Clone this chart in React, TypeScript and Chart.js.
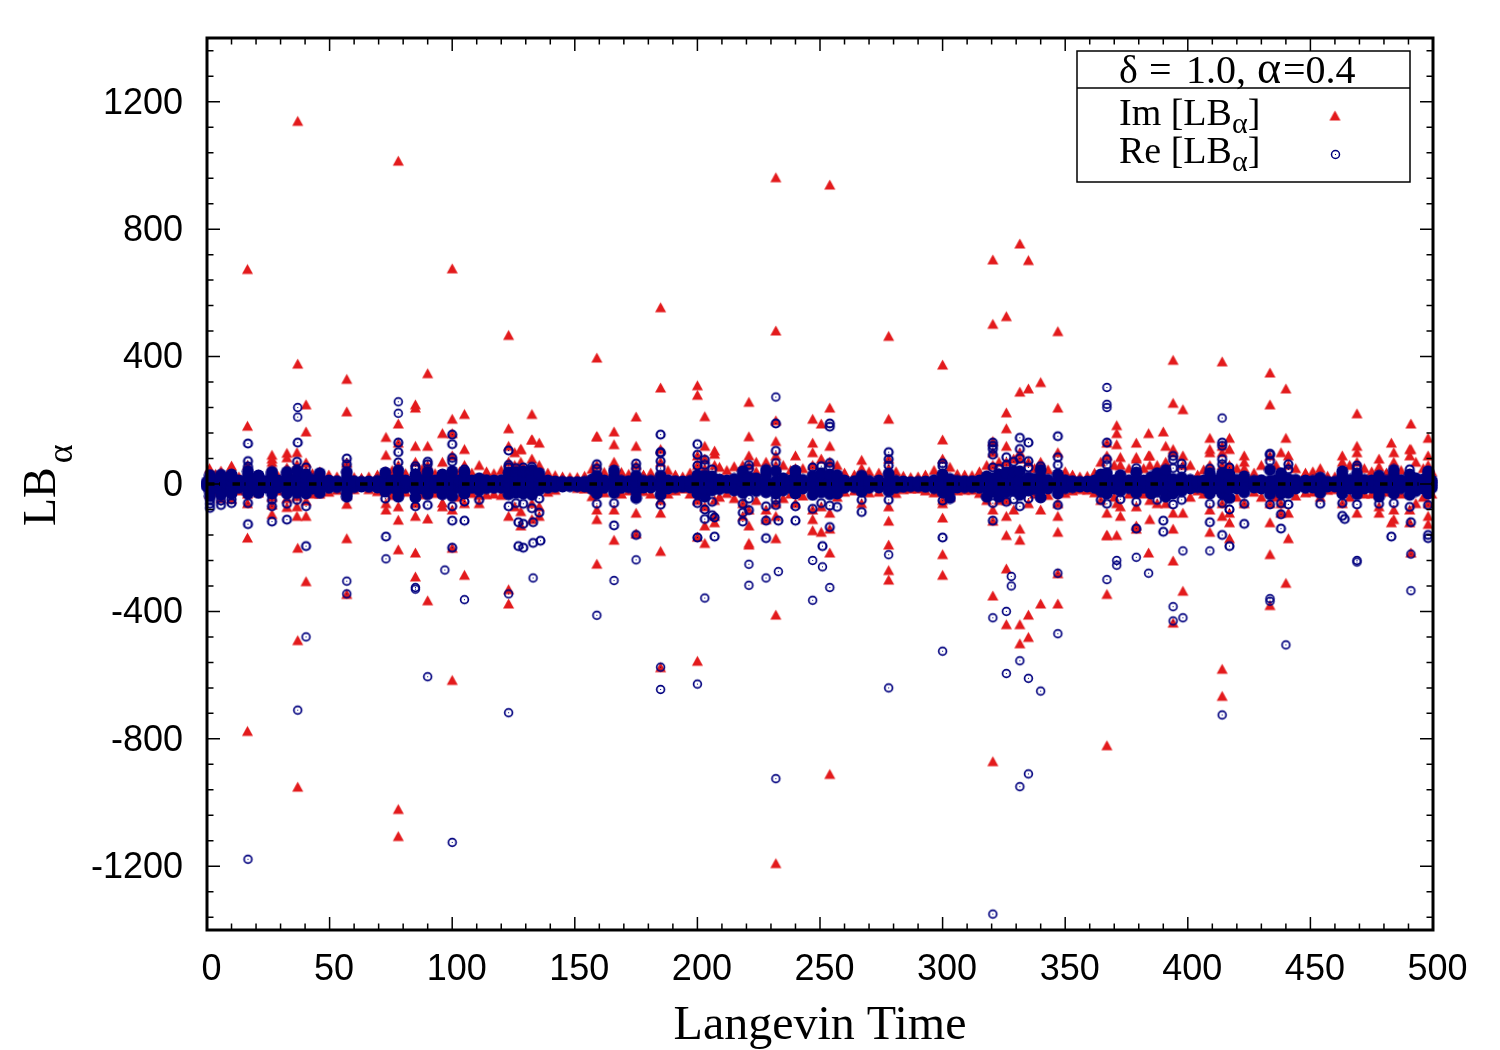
import React, { useEffect, useRef } from "react";
import { Chart, registerables } from "chart.js";

Chart.register(...registerables);

const xTicks = [0, 50, 100, 150, 200, 250, 300, 350, 400, 450, 500];
const yTicks = [-1200, -800, -400, 0, 400, 800, 1200];
const xLabel = "Langevin Time";
const legendIm = "Im [LB";
const legendRe = "Re [LB";
const zeroLine = [0, 500];

// each row: time, then the values seen in that column
const reSpread: number[][] = [
  [0, -8, -3, 2, 7], [1.2, -75, -62, -50, -38, -24, -10, 4, 16, 28], [3.5, -12, -5, 3, 10], [5.7, -66, -52, -34, -20, -6, 8, 20, 29], [8, -11, -4, 4, 12], [10, -60, -48, -30, -18, -4, 10, 24, 30],
  [13, -12, -4, 3, 11], [16.7, -60, -30, -16, -2, 12, 26, 40, 55], [19, -13, -5, 4, 12], [21, -28, -12, 2, 14, 27], [24, -11, -4, 4, 10], [26.5, -118, -70, -50, -30, -12, 4, 18, 32, 38], [29, -11, -4, 5, 11],
  [32.6, -112, -62, -30, -14, 2, 16, 30, 38], [35, -13, -5, 4, 12], [36.7, -50, -28, -12, 6, 20, 42, 70], [40.4, -70, -30, -14, 3, 18, 30, 52], [43, -14, -5, 4, 13], [46, -28, -10, 5, 18, 34], [49.7, -12, -5, 4, 11],
  [53, -10, -3, 3, 9], [57, -40, -28, -12, 4, 20, 38, 62, 80], [60, -10, -3, 4, 9], [63, -8, -3, 3, 7], [66, -9, -3, 3, 8], [69.5, -11, -4, 4, 10], [72.7, -46, -24, -10, 4, 18, 36], [75.5, -12, -4, 3, 11],
  [78, -40, -24, -8, 8, 22, 42, 68], [81, -12, -4, 4, 11], [85, -70, -42, -20, -4, 12, 30, 48, 56], [87.7, -14, -5, 4, 13], [90, -66, -32, -14, 4, 18, 38, 62], [93, -12, -4, 4, 11], [96, -32, -14, 2, 18, 30], [100, -70, -38, -18, 0, 18, 40, 70, 82],
  [103, -13, -5, 5, 12], [105, -55, -30, -12, 6, 22, 38, 46], [108, -12, -4, 4, 11], [111, -50, -20, -8, 8, 18], [114, -13, -4, 3, 12], [117, -12, -4, 4, 11], [120, -12, -4, 5, 12], [123, -70, -32, -14, 4, 20, 36, 52, 60],
  [126, -60, -28, -10, 8, 24, 38, 50], [129, -62, -30, -12, 6, 22, 40, 52], [132.5, -76, -34, -14, 4, 22, 44, 54], [135.5, -90, -46, -18, 2, 20, 34], [139, -12, -4, 4, 11], [142, -9, -3, 3, 8], [145, -8, -3, 3, 7], [148, -7, -2, 2, 6], [151, -7, -2, 3, 6],
  [154, -8, -3, 3, 7], [157, -16, -6, 3, 14], [159, -62, -30, -10, 8, 26, 48, 62], [162, -12, -4, 4, 11], [166, -60, -28, -10, 8, 24, 42], [169, -12, -4, 4, 10], [172, -10, -3, 4, 9], [175, -44, -22, -8, 8, 26, 50, 64], [178, -11, -4, 3, 10],
  [181, -11, -4, 5, 10], [185, -65, -34, -12, 6, 26, 50, 72, 98], [188, -14, -5, 4, 12], [191, -10, -3, 3, 9], [194, -9, -3, 3, 8], [197, -11, -4, 4, 10], [200, -60, -30, -12, 8, 28, 58, 92], [203, -80, -40, -16, 4, 26, 60, 76],
  [206, -98, -56, -20, 2, 24, 46], [209, -16, -6, 2, 14], [212, -12, -4, 5, 11], [215, -20, -8, 4, 16], [218.5, -118, -90, -62, -28, -10, 8, 26, 40], [221, -82, -46, -18, 2, 22, 48, 60], [224, -22, -6, 6, 18], [228, -115, -70, -26, -8, 10, 30, 44],
  [232, -66, -30, -10, 10, 40, 66, 104], [235, -20, -6, 6, 18], [238, -12, -4, 4, 11], [240, -70, -30, -10, 6, 26, 42], [243, -14, -5, 4, 13], [247, -78, -34, -12, 6, 26, 52], [250.5, -60, -26, -8, 10, 34, 56], [254, -68, -32, -12, 8, 30, 54, 66],
  [257, -72, -30, -8, 10, 28], [260, -12, -4, 4, 11], [264, -10, -3, 3, 9], [267, -88, -50, -24, -6, 12, 26], [270, -12, -4, 4, 10], [274, -11, -4, 4, 11], [278, -50, -22, -6, 10, 32, 58, 78], [281, -12, -4, 4, 10], [284, -9, -3, 3, 8], [287, -7, -2, 3, 6], [290, -7, -3, 2, 7],
  [293, -9, -3, 3, 8], [296.5, -13, -5, 3, 12], [300, -52, -26, -8, 10, 30, 56], [303, -44, -18, 2, 16], [306, -11, -4, 4, 10], [309, -10, -3, 4, 9], [312, -10, -4, 3, 9], [315, -12, -4, 5, 11], [318, -40, -14, 4, 24], [320.5, -60, -24, -6, 18, 52, 92, 120],
  [323, -40, -16, 4, 30, 48], [326, -56, -26, -8, 14, 36, 60, 84], [329, -48, -20, -2, 18, 40, 70], [331.5, -70, -34, -10, 12, 40, 80, 110], [335, -46, -20, -2, 20, 52, 72], [337.5, -16, -6, 5, 16], [340, -42, -18, 0, 22, 44, 56], [343, -14, -5, 4, 13], [347, -66, -30, -8, 10, 30, 60, 84],
  [350, -13, -5, 4, 12], [353, -10, -3, 3, 9], [356, -8, -3, 3, 7], [359, -8, -3, 4, 8], [362, -12, -4, 4, 11], [364.5, -50, -22, -6, 14, 30], [367, -62, -30, -10, 12, 34, 60, 78], [370, -14, -5, 4, 12], [372.5, -48, -22, -6, 12, 28], [376, -13, -5, 4, 12], [379, -56, -28, -8, 10, 36, 50],
  [382, -12, -4, 4, 11], [385, -30, -12, 4, 22], [387.5, -50, -22, -6, 10, 34], [391, -40, -16, 2, 26, 44], [394, -64, -30, -8, 16, 50, 76, 88], [397.5, -50, -22, -4, 20, 46, 64], [401, -14, -5, 4, 13], [404, -10, -4, 4, 9], [406.5, -12, -5, 4, 11], [409, -62, -30, -8, 14, 34, 48], [411.5, -14, -5, 5, 13],
  [414, -60, -30, -10, 12, 34, 62, 78], [417, -80, -44, -14, 8, 30, 52], [420, -14, -5, 4, 13], [423, -62, -26, -8, 10, 24], [427, -11, -4, 4, 10], [430, -14, -5, 4, 12], [433.5, -64, -32, -10, 10, 44, 72, 92], [436, -14, -5, 6, 13], [438, -60, -30, -10, 10, 34], [441, -64, -28, -6, 16, 46, 62],
  [444, -14, -5, 4, 13], [448, -12, -4, 4, 11], [451, -11, -4, 4, 10], [454, -62, -28, -10, 6, 20], [457, -8, -3, 3, 7], [460, -8, -2, 3, 7], [463, -100, -60, -30, -10, 8, 26, 40], [466, -14, -5, 4, 13], [469, -64, -32, -10, 10, 32, 50, 58], [472, -14, -5, 5, 13],
  [475, -12, -4, 4, 11], [478, -62, -40, -24, -8, 8, 26], [481, -11, -4, 3, 10], [484, -60, -30, -10, 8, 28, 44], [487, -13, -5, 4, 12], [490.5, -72, -34, -12, 8, 30, 46], [493, -22, -8, 2, 18], [496, -14, -5, 6, 14], [498, -66, -30, -8, 10, 30, 40], [499.5, -12, -4, 5, 11],
];

const imSpread: number[][] = [
  [1, 50, 38, 26, -30], [3.5, 32, 22, -24], [5.7, 42, 30, 20, -44], [8, 28, 18, -22], [10, 58, 46, 34, -46], [13, 24, -20], [16.5, 60, 40, -60, -30], [21, 30, 18, -26], [26.5, 92, 80, 70, 58, 38, -64, -94, -40], [29, 26, -20],
  [32.6, 98, 84, 52, 30, -44, -72], [36.7, 100, 62, -70, -38, -100], [40.4, 68, 44, -52, -100], [43, 34, 22, -30], [46, 40, 26, -30], [49.7, 30, 18, -24], [53, 24, -18], [57, 68, 50, -62, -34], [60, 22, -16], [63, 20, 14], [66, 24, -16], [69.5, 30, -22],
  [73, 148, 92, 40, -80, -60], [75.5, 44, 26, -34], [78, 190, 130, 60, -70, -112], [81, 34, 22, -24], [85, 120, 70, -60, -100], [87.7, 48, 30, -32], [90, 120, 60, -108], [93, 34, -28], [96, 160, 70, -70, -58], [100, 160, 90, -80],
  [103, 40, -40], [105, 110, 60, -60], [108, 36, -28], [111, 60, -60, -34], [114, 40, -32], [117, 34, -30], [120, 44, -34], [123, 120, 70, -100], [125.5, 100, 60, -70], [128, 110, 70, -85], [132.5, 140, 80, -60, -110], [135.5, 130, 60, -70, -100],
  [139, 36, -24], [142, 28, -18], [145, 24, 14], [148, 22, 12], [151, 22, -12], [154, 26, -14], [157, 48, -38], [159, 150, 60, -80], [162, 38, -26], [166, 125, 70, -80], [169, 38, -30], [172, 32, -20], [175, 120, 60, -90], [178, 30, -22], [181, 36, -30], [185, 110, 70, -90, -50],
  [188, 44, -30], [191, 30, -20], [194, 24, -14], [197, 36, -30], [200, 90, 60, -50], [203, 80, 50, -130, -70], [207, 95, 60, -50, -120], [209, 54, -40], [212, 44, -28], [215, 56, -44], [218.5, 60, -100, -60], [221, 90, 60, -80, -130], [224, 70, 40, -50], [228, 70, 40, -80, -110],
  [232, 90, 60, -60], [235, 60, -44], [238, 44, -30], [240, 90, 50, -60], [243, 50, -36], [247, 100, 60, -80, -110], [250.5, 190, 80, -70, -150], [254, 120, 70, -90], [257, 60, -40], [260, 36, -24], [264, 30, -20], [267, 76, 50, -60], [270, 40, -26], [274, 36, -24], [278, 80, 50, -70, -190],
  [281, 40, -28], [284, 26, -16], [287, 22, -14], [290, 24, -14], [293, 30, -20], [296.5, 44, -26], [300, 80, -60, -50], [303, 54, -40], [306, 32, -20], [309, 30, -18], [312, 28, -18], [315, 40, -28], [318, 60, -50], [320.5, 100, 60, -80], [323, 70, -50], [326, 120, 70, -50, -160], [329, 80, -80], [331.5, 80, -140], [335, 70, -60], [337.5, 50, -30], [340, 70, -80], [343, 46, -34], [347, 100, -60, -150],
  [350, 40, -28], [353, 30, -20], [356, 24, -16], [359, 26, -18], [362, 36, -26], [364.5, 70, -50], [367, 90, -90, -160], [370, 60, -40], [372.5, 85, 60, -100, -70], [376, 50, -30], [379, 80, -70], [382, 50, -30], [384.5, 90, 60, -50, -110], [387.5, 60, -60], [391, 120, 70, -60], [394, 110, -90, -140],
  [398, 90, 60, -90], [401, 60, -40], [404, 30, -20], [406.5, 46, -30], [409, 110, 60, -80], [414, 100, 60, -60, -100], [417, 110, 60, -90, -120], [420, 50, -40], [423, 90, 70, 50, -60], [427, 36, -24], [430, 60, -40], [433.5, 90, -60, -120], [436, 60, -40], [438, 100, -90, -60], [441, 60, 90, -90, -170], [444, 50, -36], [448, 36, -26],
  [451, 40, -24], [454, 50, -40], [457, 26, -18], [460, 24, -16], [463, 90, 70, -60], [466, 60, -40], [469, 100, 70, -90], [472, 50, -30], [475, 40, -30], [478, 80, 55, -70, -90], [481, 36, -24], [484, 100, 70, -80, -110], [487, 44, -30], [490.5, 110, 90, -120, -80], [493, 70, -60], [496, 50, -40], [498, 90, 60, -100, -60], [499.5, 40, -30],
];

const imOutliers: number[][] = [
  [16.5, 675, 183, -168, -775], [37, 1140, 378, -200, -490, -950], [40.4, 250, 165, -305], [57, 330, 228, -170, -345], [78, 1015, -205, -1020, -1105],
  [85, 250, 240, -215, -290], [90, 348, -365], [100, 677, 205, -200, -615], [105, 220, -285], [123, 468, 175, -330, -375], [128, 110, -130], [132.5, 220, 140],
  [159, 397, 150, -110, -250], [166, 165, -175], [175, 212, -155], [185, 555, 303, -210, -575], [200, 310, 280, -165, -555], [203, 213, 120, -185], [207, 105, -100],
  [221, 258, 150, -185, -190], [232, 963, 482, 200, 135, -100, -170, -410, -1190], [247, 205, 130, -145], [254, 940, 240, -140, -215, -910], [278, 465, 205, -115, -270, -300],
  [300, 375, 140, -105, -220, -285], [320.5, 705, 503, 135, -115, -350, -870], [326, 527, 225, 175, -100, -265, -440], [331.5, 755, 290, 100, -175, -440, -500], [335, 703, 300, -410, -480],
  [340, 320, -375], [347, 480, 240, -100, -280, -375], [367, 130, -160, -345, -820], [371, 185, 160, 125, -60, -160], [379, 130, 85, -130, -140], [384, 160, 90, -215], [390, 165],
  [394, 390, 255, 100, -240, -435], [398, 235, -335], [409, 145, 100, -150], [414, 385, 120, -580, -665], [417, 145, -170], [433.5, 350, 250, -220, -380], [440, 300, 145, -310],
  [469, 222, 120], [483, 130, -120], [491, 190, 110, -215], [498, 145, -125],
];

const reOutliers: number[][] = [
  [16.7, 127, 72, -126, -1178], [37, 240, 210, 130, -710], [40.4, -195, -480], [57, -305, -345], [73, -165, -235], [78, 258, 222, 130, 100], [85, -325, -330], [90, 70, -605], [97, -270],
  [100, 155, 125, -115, -200, -1125], [105, -115, -363], [123, 105, -345, -718], [127, -120, -195], [129, -125, -200], [133, -120, -185, -295], [136, -178], [159, -412], [166, -130, -303], [175, -160, -238],
  [185, 155, 100, -575, -645], [200, 125, -168, -628], [203, -110, -358], [207, -105, -165], [221, -252, -318], [228, -170, -295], [232, 273, 190, -50, -925], [233, -115, -275], [240, -115],
  [247, -240, -365], [251, -195, -260], [254, 190, 180, -135, -325], [278, 100, -222, -640], [300, 65, -168, -525], [320.5, 130, 110, -115, -420, -1350], [326, -400, -595], [328, -290, -320],
  [331.5, 145, -555, -950], [335, 130, -610, -910], [340, -650], [347, 150, -280, -470], [367, 303, 250, 240, 130, -300], [371, -240, -255], [379, -140, -230], [384, -280], [390, -115, -150],
  [394, -385, -430], [398, -210, -420], [409, -120, -210], [414, 207, 130, 120, -160, -725], [417, -195], [423, -125], [433.5, 95, -360, -368], [438, -95, -140], [440, -505], [464, -110],
  [469, -240, -245], [483, -165], [491, -120, -220, -335], [498, -160, -170],
];

const toPoints = (rows: number[][]) =>
  rows.flatMap(([t, ...vals]) => vals.map((v) => ({ x: t, y: v })));

const RED = "#e31a1c";
const NAVY = "#00007f";
const SERIF = "'Liberation Serif', serif";

function ringMark(lineWidth: number, radius: number): HTMLCanvasElement {
  const c = document.createElement("canvas");
  c.width = 13;
  c.height = 13;
  const g = c.getContext("2d")!;
  g.strokeStyle = NAVY;
  g.fillStyle = NAVY;
  g.lineWidth = lineWidth;
  g.beginPath();
  g.arc(6.5, 6.5, radius, 0, Math.PI * 2);
  g.stroke();
  g.fillRect(6, 6, 1, 1);
  return c;
}

function diskMark(): HTMLCanvasElement {
  const c = document.createElement("canvas");
  c.width = 13;
  c.height = 13;
  const g = c.getContext("2d")!;
  g.fillStyle = NAVY;
  g.beginPath();
  g.arc(6.5, 6.5, 6, 0, Math.PI * 2);
  g.fill();
  return c;
}

function triangleMark(): HTMLCanvasElement {
  const c = document.createElement("canvas");
  c.width = 13;
  c.height = 13;
  const g = c.getContext("2d")!;
  g.fillStyle = RED;
  g.beginPath();
  g.moveTo(6.5, 1.5);
  g.lineTo(12, 11.5);
  g.lineTo(1, 11.5);
  g.closePath();
  g.fill();
  return c;
}

const framePlugin = (ringKey: HTMLCanvasElement, triKey: HTMLCanvasElement) => ({
  id: "frame",
  afterDatasetsDraw(chart: any) {
    const { ctx, chartArea: a, scales } = chart;
    const { x, y } = scales;
    ctx.save();
    ctx.strokeStyle = "#000";
    ctx.lineWidth = 1.5;
    const xMinor: number[] = [];
    for (let i = 1; i < xTicks.length; i++)
      for (let k = 1; k < 5; k++) xMinor.push(xTicks[i - 1] + ((xTicks[i] - xTicks[i - 1]) * k) / 5);
    const yMinor: number[] = [];
    for (let v = -1360; v < 1400; v += 80) if (!yTicks.includes(v)) yMinor.push(v);
    ctx.beginPath();
    const vt = (v: number, len: number) => {
      const px = x.getPixelForValue(v);
      ctx.moveTo(px, a.bottom);
      ctx.lineTo(px, a.bottom - len);
      ctx.moveTo(px, a.top);
      ctx.lineTo(px, a.top + len);
    };
    const ht = (v: number, len: number) => {
      const py = y.getPixelForValue(v);
      ctx.moveTo(a.left, py);
      ctx.lineTo(a.left + len, py);
      ctx.moveTo(a.right, py);
      ctx.lineTo(a.right - len, py);
    };
    xTicks.forEach((v) => vt(v, 13));
    xMinor.forEach((v) => vt(v, 6.5));
    yTicks.forEach((v) => ht(v, 13));
    yMinor.forEach((v) => ht(v, 6.5));
    ctx.stroke();

    ctx.lineWidth = 3;
    ctx.strokeRect(a.left, a.top, a.right - a.left, a.bottom - a.top);

    // y axis title with its subscript
    ctx.fillStyle = "#000";
    ctx.save();
    ctx.translate(55, 526);
    ctx.rotate(-Math.PI / 2);
    ctx.textAlign = "left";
    ctx.textBaseline = "alphabetic";
    ctx.font = `46px ${SERIF}`;
    ctx.fillText("LB", 0, 0);
    const w = ctx.measureText("LB").width;
    ctx.font = `36px ${SERIF}`;
    ctx.fillText("α", w + 4, 17);
    ctx.restore();

    // legend
    ctx.fillStyle = "#fff";
    ctx.fillRect(1077, 51, 333, 131);
    ctx.lineWidth = 1.5;
    ctx.strokeStyle = "#000";
    ctx.strokeRect(1077, 51, 333, 131);
    ctx.beginPath();
    ctx.moveTo(1077, 88);
    ctx.lineTo(1410, 88);
    ctx.stroke();
    ctx.fillStyle = "#000";
    ctx.textAlign = "left";
    ctx.textBaseline = "alphabetic";
    ctx.font = `40px ${SERIF}`;
    ctx.fillText("δ", 1119, 83);
    ctx.fillText("=", 1149, 83);
    ctx.fillText("1.0,", 1186, 83);
    ctx.fillText("=0.4", 1283, 83);
    ctx.font = `46px ${SERIF}`;
    ctx.fillText("α", 1257, 83);
    const entry = (label: string, base: number) => {
      ctx.font = `38px ${SERIF}`;
      ctx.fillText(label, 1119, base);
      const lw = ctx.measureText(label).width;
      ctx.font = `30px ${SERIF}`;
      ctx.fillText("α", 1119 + lw, base + 8);
      const sw = ctx.measureText("α").width;
      ctx.font = `38px ${SERIF}`;
      ctx.fillText("]", 1119 + lw + sw, base);
    };
    entry(legendIm, 125);
    entry(legendRe, 163);
    ctx.drawImage(triKey, 1328.5, 109);
    ctx.drawImage(ringKey, 1329, 148);
    ctx.restore();
  },
});

export default function App() {
  const ref = useRef<HTMLCanvasElement>(null);
  useEffect(() => {
    document.body.style.margin = "0";
    document.body.style.background = "#fff";
    const thin = ringMark(1.7, 3.9);
    const bold = ringMark(2.2, 4);
    const disk = diskMark();
    const tri = triangleMark();
    const chart = new Chart(ref.current!, {
      type: "scatter",
      data: {
        datasets: [
          {
            label: "zero",
            data: zeroLine.map((t) => ({ x: t, y: 0 })),
            showLine: true,
            borderColor: "#000",
            borderWidth: 3.5,
            borderDash: [7.5, 4.5, 1, 12.5],
            pointRadius: 0,
            order: 0,
          },
          {
            label: "Re [LB_α]",
            data: toPoints([...reSpread, ...reOutliers]),
            pointStyle: (c: any) => {
              const v = Math.abs(c.raw?.y ?? 0);
              return v <= 45 ? disk : v <= 200 ? bold : thin;
            },
            pointRadius: 5,
            backgroundColor: NAVY,
            borderColor: NAVY,
            clip: false as any,
            order: 1,
          },
          {
            label: "Im [LB_α]",
            data: toPoints([...imSpread, ...imOutliers]),
            pointStyle: tri as any,
            pointRadius: 6,
            borderWidth: 0,
            backgroundColor: RED,
            borderColor: RED,
            clip: false as any,
            order: 2,
          },
        ],
      },
      options: {
        responsive: false,
        animation: false,
        events: [],
        layout: { padding: { top: 38, right: 67, left: 0, bottom: 0 } },
        plugins: { legend: { display: false }, tooltip: { enabled: false } },
        scales: {
          x: {
            type: "linear",
            min: 0,
            max: 500,
            afterFit: (s: any) => {
              s.height = 120;
              s.paddingLeft = 0;
              s.paddingRight = 0;
            },
            afterBuildTicks: (s: any) => {
              s.ticks = xTicks.map((value) => ({ value }));
            },
            grid: { display: false, drawTicks: false },
            border: { display: false },
            ticks: {
              color: "#000",
              font: { family: "Liberation Sans", size: 36 },
              padding: 18,
              maxRotation: 0,
              autoSkip: false,
              labelOffset: 4.5,
              callback: (v: any) => String(v),
            },
            title: {
              display: true,
              text: xLabel,
              color: "#000",
              font: { family: "Liberation Serif", size: 48, lineHeight: 1 },
              padding: { top: 0, bottom: 0 },
            },
          },
          y: {
            type: "linear",
            min: -1400,
            max: 1400,
            afterFit: (s: any) => {
              s.width = 207;
              s.paddingTop = 0;
              s.paddingBottom = 0;
            },
            afterBuildTicks: (s: any) => {
              s.ticks = yTicks.map((value) => ({ value }));
            },
            grid: { display: false, drawTicks: false },
            border: { display: false },
            ticks: {
              color: "#000",
              font: { family: "Liberation Sans", size: 36 },
              padding: 24,
              autoSkip: false,
              labelOffset: 2,
              callback: (v: any) => String(v),
            },
          },
        },
      } as any,
      plugins: [framePlugin(ringMark(1.5, 4), tri)],
    });
    return () => chart.destroy();
  }, []);
  return (
    <canvas
      ref={ref}
      width={1500}
      height={1050}
      style={{ position: "absolute", left: 0, top: 0, width: 1500, height: 1050 }}
    />
  );
}
